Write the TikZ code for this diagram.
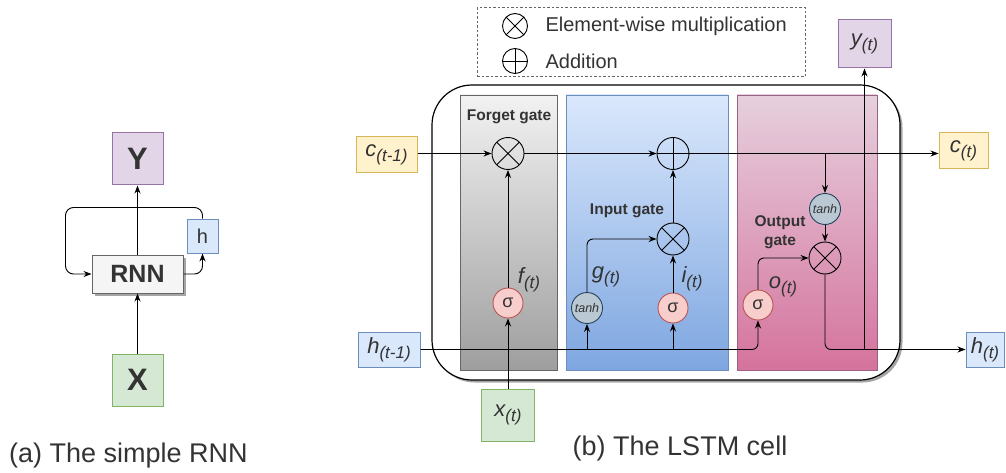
\documentclass[tikz,border=0pt]{standalone}
\usepackage{fontspec}
\setmainfont{Liberation Sans}
\usetikzlibrary{arrows.meta,shadows,calc}
\definecolor{purpF}{HTML}{E1D5E7}\definecolor{purpD}{HTML}{9673A6}
\definecolor{blueF}{HTML}{DAE8FC}\definecolor{blueD}{HTML}{6C8EBF}
\definecolor{greenF}{HTML}{D5E8D4}\definecolor{greenD}{HTML}{82B366}
\definecolor{yelF}{HTML}{FFF2CC}\definecolor{yelD}{HTML}{D6B656}
\definecolor{redF}{HTML}{F8CECC}\definecolor{redD}{HTML}{B85450}
\definecolor{tanF}{HTML}{BAC8D3}\definecolor{tanD}{HTML}{23445D}
\definecolor{grayF}{HTML}{F5F5F5}\definecolor{grayD}{HTML}{666666}
\definecolor{txt}{HTML}{333333}
\definecolor{fgTop}{HTML}{F2F2F2}\definecolor{fgBot}{HTML}{9E9E9E}
\definecolor{igTop}{HTML}{DAE8FC}\definecolor{igBot}{HTML}{7EA6E0}
\definecolor{ogTop}{HTML}{E6D0DE}\definecolor{ogBot}{HTML}{D5739D}
\definecolor{ogD}{HTML}{996185}
\newcommand{\vlab}[2]{{\itshape\fontsize{22}{22}\selectfont #1\raisebox{-5pt}{\fontsize{17}{17}\selectfont #2}}}
\begin{document}
\begin{tikzpicture}[x=1pt,y=-1pt,
  every node/.style={text=txt},
  box/.style={draw, line width=1pt, inner sep=0pt},
  arr/.style={-{Stealth[length=8pt,width=6pt]}, line width=0.9pt},
  op/.style={circle, draw, line width=0.9pt, minimum size=32pt, inner sep=0pt},
  mul/.style={op, path picture={\draw[line width=0.8pt] (path picture bounding box.north west) -- (path picture bounding box.south east) (path picture bounding box.south west) -- (path picture bounding box.north east);}},
  add/.style={op, path picture={\draw[line width=0.8pt] (path picture bounding box.north) -- (path picture bounding box.south) (path picture bounding box.west) -- (path picture bounding box.east);}},
  sig/.style={circle, draw=redD, fill=redF, line width=0.9pt, minimum size=30pt, inner sep=0pt, font=\fontsize{18}{18}\selectfont},
  th/.style={circle, draw=tanD, fill=tanF, line width=0.9pt, minimum size=31pt, inner sep=0pt, font=\fontsize{12.5}{12.5}\selectfont\itshape},
  gatelbl/.style={font=\fontsize{15.5}{19}\selectfont\bfseries, align=center},
  shad/.style={drop shadow={shadow xshift=2.5pt, shadow yshift=-2.5pt, opacity=0.35, fill=black}}
]
\useasboundingbox (0,0) rectangle (1006,473);
% ---------- simple RNN ----------
\node[box, fill=purpF, draw=purpD, minimum width=51pt, minimum height=52pt, font=\fontsize{31}{31}\selectfont\bfseries] (Y) at (137.5,159) {Y};
\node[box, fill=grayF, draw=grayD, minimum width=91pt, minimum height=38pt, shad, font=\fontsize{25}{25}\selectfont\bfseries] (RNN) at (137.5,274) {RNN};
\node[box, fill=blueF, draw=blueD, minimum width=31pt, minimum height=34pt, font=\fontsize{20}{20}\selectfont] (h) at (202.5,236) {h};
\node[box, fill=greenF, draw=greenD, minimum width=51pt, minimum height=52pt, font=\fontsize{31}{31}\selectfont\bfseries] (X) at (137.5,380) {X};
\draw[arr] (X) -- (RNN);
\draw[arr] (RNN) -- (Y);
\draw[arr, rounded corners=8pt] (h.north) -- ++(0,-11) -| ($(RNN.west)+(-26,0)$) -- (RNN.west);
\draw[arr, rounded corners=8pt] (RNN.east) -| (h.south);
\node[font=\fontsize{27}{27}\selectfont] (capa) at (128.5,456) {(a) The simple RNN};
% ---------- legend ----------
\node[draw=grayD, line width=1pt, dash pattern=on 2.5pt off 2pt, minimum width=328pt, minimum height=69pt] (leg) at (641,42.5) {};
\node[mul, minimum size=25pt] (lm) at (515,26) {};
\node[add, minimum size=25pt] (la) at (515,61) {};
\node[anchor=west, font=\fontsize{20}{20}\selectfont] (lmt) at (542,26) {Element-wise multiplication};
\node[anchor=west, font=\fontsize{20}{20}\selectfont] (lat) at (542,61) {Addition};
% ---------- LSTM cell ----------
\node[draw, line width=1.2pt, fill=white, rounded corners=40pt, minimum width=468pt, minimum height=295pt, shad] (cell) at (666,232.5) {};
\node[draw=grayD, line width=0.8pt, top color=fgTop, bottom color=fgBot, minimum width=97pt, minimum height=275pt] (fgate) at (508.5,232.5) {};
\node[draw=blueD, line width=0.8pt, top color=igTop, bottom color=igBot, minimum width=162pt, minimum height=275pt] (igate) at (647,232.5) {};
\node[draw=ogD, line width=0.8pt, top color=ogTop, bottom color=ogBot, minimum width=140pt, minimum height=275pt] (ogate) at (807,232.5) {};
\node[gatelbl] (fgl) at (509,117) {Forget gate};
\node[gatelbl] (igl) at (627,211) {Input gate};
\node[gatelbl] (ogl) at (780,232) {Output\\gate};
% inputs/outputs
\node[box, fill=yelF, draw=yelD, minimum width=61pt, minimum height=36pt] (cprev) at (386.5,155) {\vlab{c}{(t-1)}};
\node[box, fill=blueF, draw=blueD, minimum width=62pt, minimum height=35pt] (hprev) at (389,349.5) {\vlab{h}{(t-1)}};
\node[box, fill=greenF, draw=greenD, minimum width=53pt, minimum height=52pt] (xt) at (508,415) {\vlab{x}{(t)}};
\node[box, fill=yelF, draw=yelD, minimum width=49pt, minimum height=36pt] (ct) at (963.5,151) {\vlab{c}{(t)}};
\node[box, fill=blueF, draw=blueD, minimum width=38pt, minimum height=35pt] (ht) at (985,349.5) {\vlab{h}{(t)}};
\node[box, fill=purpF, draw=purpD, minimum width=53pt, minimum height=48pt] (yt) at (864.5,44) {\vlab{y}{(t)}};
% operators
\node[mul] (fx) at (508,153.5) {};
\node[sig] (fsig) at (508,303) {σ};
\node[add] (plus) at (673,153.5) {};
\node[mul] (ix) at (673,239) {};
\node[th] (tanhg) at (587,308) {tanh};
\node[sig] (isig) at (673,308) {σ};
\node[th] (otanh) at (825,209) {tanh};
\node[mul] (ox) at (825,258) {};
\node[sig] (osig) at (758,305) {σ};
\coordinate (yb) at (864.5,349.5);
% labels
\node (fl) at (529,280) {\vlab{f}{(t)}};
\node (gl) at (606,277) {\vlab{g}{(t)}};
\node (il) at (692,279) {\vlab{i}{(t)}};
\node (ol) at (783,287) {\vlab{o}{(t)}};
% connectors
\draw[arr] (cprev.east |- fx.west) -- (fx.west);
\draw[arr] (fx.east) -- (plus.west);
\draw[arr] (plus.east) -- (plus.east -| ct.west);
\draw[arr] (otanh.north |- plus.east) -- (otanh.north);
\draw[arr] (otanh) -- (ox);
\draw[arr] (fsig) -- (fx);
\draw[arr] (xt.north) -- (fsig.south);
\draw[arr] (isig) -- (ix);
\draw[arr] (ix) -- (plus);
\draw[arr, rounded corners=6pt] (tanhg.north) |- (ix.west);
\draw[arr, rounded corners=6pt] (osig.north) |- (ox.west);
\draw[arr, rounded corners=6pt] (hprev.east) -| (osig.south);
\draw[arr] (tanhg.south |- hprev.east) -- (tanhg.south);
\draw[arr] (isig.south |- hprev.east) -- (isig.south);
\draw[arr, rounded corners=6pt] (ox.south) |- (ht.west);
\draw[arr] (yb) -- (yt.south);
\node[font=\fontsize{27}{27}\selectfont] (capb) at (680,449) {(b) The LSTM cell};
\end{tikzpicture}
\end{document}
